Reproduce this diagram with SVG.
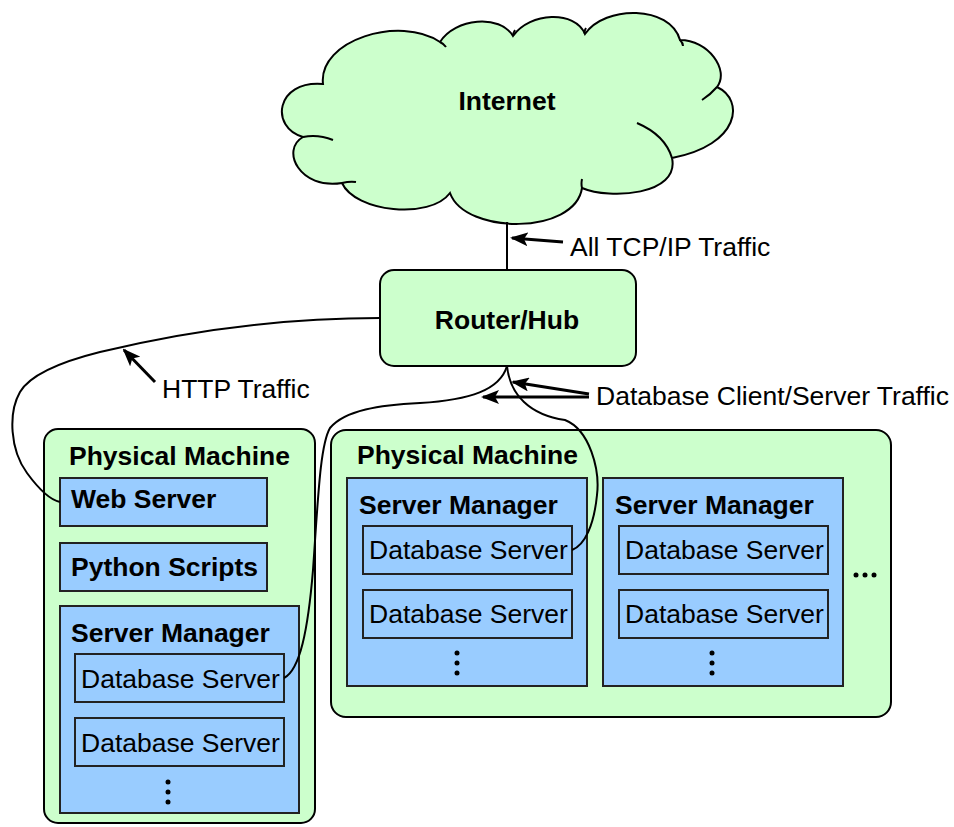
<svg xmlns="http://www.w3.org/2000/svg" width="954" height="827" viewBox="0 0 954 827">
<defs>
<marker id="ah" markerUnits="userSpaceOnUse" markerWidth="18" markerHeight="14" refX="16" refY="7" orient="auto">
<path d="M0,0 L18,7 L0,14 L4,7 Z" fill="#000"/>
</marker>
<style>
.green{fill:#CCFFCC;stroke:#000;stroke-width:2}
.blue{fill:#99CCFF;stroke:#222;stroke-width:2}
.t{font-family:"Liberation Sans",Arial,sans-serif;font-size:26.5px;fill:#000}
.b{font-weight:bold}
.c{text-anchor:middle}
.wire{fill:none;stroke:#000;stroke-width:2}
.arr{fill:none;stroke:#000;stroke-width:3;marker-end:url(#ah)}
</style>
</defs>
<rect width="954" height="827" fill="#fff"/>

<g id="internet">
<path class="green" d="M323,84 C318,40 400,15 440,42 C455,18 500,14 513,36 C530,12 575,10 585,34 C605,5 670,5 680,40 C708,40 730,70 717,87 C745,100 740,145 672,158 C680,195 610,200 582,188 C575,235 465,235 450,193 C430,220 355,212 342,183 C300,190 280,150 303,137 C270,128 275,80 323,84 Z"/>
<path class="wire" d="M303,137 Q318,134 333,140 M342,183 Q350,181 356,182 M582,188 Q581,184 582,179 M637,123 Q665,135 672,158 M717,87 Q710,95 702,100 M680,40 Q683,43 683,46 M440,42 Q444,44 446,47 M513,36 Q513,33 515,30 M585,34 Q584,31 586,28"/>
<text class="t b c" x="507" y="110">Internet</text>
</g>

<g id="router">
<rect class="green" x="380" y="270" width="256" height="96" rx="14"/>
<text class="t b c" x="507" y="329">Router/Hub</text>
</g>

<g id="pm-left">
<rect class="green" x="44" y="429" width="271" height="394" rx="14"/>
<text class="t b" x="69" y="465">Physical Machine</text>
<g id="web-server">
<rect class="blue" x="60" y="478" width="207" height="48"/>
<text class="t b" x="71" y="508">Web Server</text>
</g>
<g id="python-scripts">
<rect class="blue" x="60" y="543" width="207" height="48"/>
<text class="t b" x="71" y="576">Python Scripts</text>
</g>
<g id="sm-left">
<rect class="blue" x="60" y="606" width="239" height="207"/>
<text class="t b" x="71" y="642">Server Manager</text>
<g id="db-l1"><rect class="blue" x="75" y="654" width="209" height="48"/><text class="t" x="81" y="688">Database Server</text></g>
<g id="db-l2"><rect class="blue" x="75" y="718" width="209" height="48"/><text class="t" x="81" y="752">Database Server</text></g>
<circle cx="168" cy="782" r="2.5"/><circle cx="168" cy="792" r="2.5"/><circle cx="168" cy="802" r="2.5"/>
</g>
</g>

<g id="pm-right">
<rect class="green" x="331" y="430" width="560" height="287" rx="15"/>
<text class="t b" x="357" y="464">Physical Machine</text>
<g id="sm-r1">
<rect class="blue" x="347" y="478" width="240" height="208"/>
<text class="t b" x="359" y="514">Server Manager</text>
<g id="db-r1a"><rect class="blue" x="363" y="526" width="209" height="48"/><text class="t" x="369" y="559">Database Server</text></g>
<g id="db-r1b"><rect class="blue" x="363" y="590" width="209" height="48"/><text class="t" x="369" y="623">Database Server</text></g>
<circle cx="457" cy="653" r="2.5"/><circle cx="457" cy="663" r="2.5"/><circle cx="457" cy="673" r="2.5"/>
</g>
<g id="sm-r2">
<rect class="blue" x="603" y="478" width="240" height="208"/>
<text class="t b" x="615" y="514">Server Manager</text>
<g id="db-r2a"><rect class="blue" x="619" y="526" width="209" height="48"/><text class="t" x="625" y="559">Database Server</text></g>
<g id="db-r2b"><rect class="blue" x="619" y="590" width="209" height="48"/><text class="t" x="625" y="623">Database Server</text></g>
<circle cx="712" cy="653" r="2.5"/><circle cx="712" cy="663" r="2.5"/><circle cx="712" cy="673" r="2.5"/>
</g>
<circle cx="856" cy="575" r="2.5"/><circle cx="865" cy="575" r="2.5"/><circle cx="874" cy="575" r="2.5"/>
</g>

<g id="connectors">
<path class="wire" d="M507,222 L507,270"/>
<path class="wire" d="M380,318 C270,318 170,335 100,352 C60,362 30,375 20,392 C8,413 10,450 27,473 C38,488 50,500 60,502"/>
<path class="wire" d="M507,366 C500,390 470,400 420,403 C380,405 345,410 330,428 C320,445 318,500 313,570 C308,630 300,670 284,678"/>
<path class="wire" d="M507,366 C510,395 530,415 565,420 C590,430 600,470 597,495 C594,525 585,545 572,550"/>
<path class="arr" d="M563,242 L512,238"/>
<path class="arr" d="M155,382 L124,350"/>
<path class="arr" d="M589,394 L513,382"/>
<path class="arr" d="M589,397 L483,397"/>
</g>

<g id="labels">
<text class="t" x="570" y="256">All TCP/IP Traffic</text>
<text class="t" x="162" y="398">HTTP Traffic</text>
<text class="t" x="596" y="405">Database Client/Server Traffic</text>
</g>
</svg>
